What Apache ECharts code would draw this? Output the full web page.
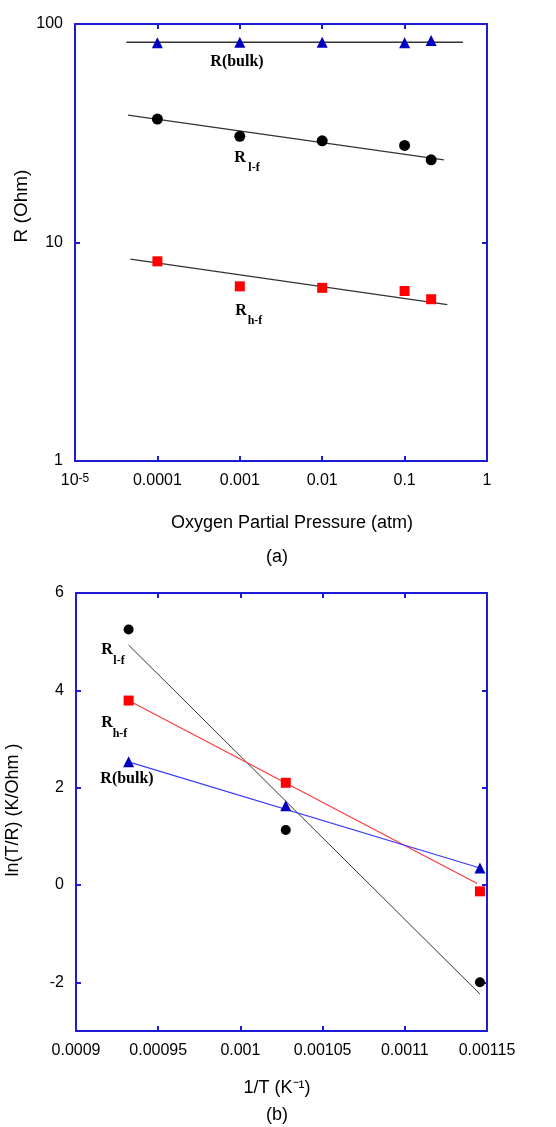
<!DOCTYPE html>
<html style="height: 100%">
<head>
<meta charset="utf-8">
<script src="https://cdn.jsdelivr.net/npm/echarts@6/dist/echarts.min.js"></script>
</head>
<body style="height: 100%; margin: 0; background: #fff">
<div id="container" style="width: 556px; height: 1127px"></div>
<script type="text/javascript">
// (a) resistance vs oxygen partial pressure
var pO2 = [0.0001, 0.001, 0.01, 0.1, 0.21];
var rBulk = [82, 82.5, 82.5, 82, 84];
var rLf = [36.7, 30.6, 29.2, 27.8, 23.9];
var rHf = [8.2, 6.3, 6.2, 6.0, 5.5];
var bulkFitX = [4.2e-5, 0.51], bulkFitY = [82.5, 82.5];
var lfFitX = [4.4e-5, 0.30], lfFitY = [38.3, 23.9];
var hfFitX = [4.7e-5, 0.33], hfFitY = [8.4, 5.2];
var pTickLabels = ['{a|10}{s|-5}', '0.0001', '0.001', '0.01', '0.1', '1'];

// (b) Arrhenius plot
var invT = [0.000932, 0.0010276, 0.0011457];
var lnLf = [5.25, 1.13, -2.0];
var lnHf = [3.79, 2.1, -0.13];
var lnBulk = [2.53, 1.63, 0.35];
var arrLfX = [0.000932, 0.0011457], arrLfY = [4.93, -2.24];
var arrHfX = [0.000932, 0.001144], arrHfY = [3.79, 0.03];
var arrBulkX = [0.000932, 0.0011457], arrBulkY = [2.53, 0.35];
var tTickLabels = ['0.0009', '0.00095', '0.001', '0.00105', '0.0011', '0.00115'];

function zip(xs, ys) {
    return xs.map(function (x, i) { return [x, ys[i]]; });
}

var blue = '#1c1cd6';
var font = 'Liberation Sans, Arial, sans-serif';
var serif = 'Liberation Serif, Times New Roman, serif';

function frameAxis(extra) {
    var base = {
        axisLine: { show: true, onZero: false, lineStyle: { color: blue, width: 2 } },
        axisTick: { show: true, inside: true, length: 5, lineStyle: { color: blue, width: 2 } },
        splitLine: { show: false },
        axisLabel: { show: false }
    };
    return Object.assign(base, extra);
}

function txt(x, y, text, f, extra) {
    return Object.assign({ type: 'text', x: x, y: y,
        style: { text: text, font: f, fill: '#000', align: 'center', verticalAlign: 'middle' } }, extra || {});
}

var dom = document.getElementById('container');
var myChart = echarts.init(dom);
var lbl = { color: '#000', fontSize: 16, fontFamily: font };

var option = {
    animation: false,
    grid: [
        { left: 75, top: 24, width: 412, height: 437 },
        { left: 76, top: 593, width: 411, height: 438 }
    ],
    xAxis: [
        frameAxis({ type: 'log', gridIndex: 0, min: 1e-5, max: 1, logBase: 10, position: 'bottom',
            axisLabel: Object.assign({ show: true, margin: 12,
                formatter: function (v) { return pTickLabels[Math.round(Math.log10(v)) + 5]; },
                rich: { a: { fontSize: 16, fontFamily: font, color: '#000', verticalAlign: 'bottom' },
                        s: { fontSize: 12, fontFamily: font, color: '#000', verticalAlign: 'top' } } }, lbl) }),
        frameAxis({ type: 'log', gridIndex: 0, min: 1e-5, max: 1, logBase: 10, position: 'top' }),
        frameAxis({ type: 'value', gridIndex: 1, min: 0.0009, max: 0.00115, interval: 0.00005, position: 'bottom',
            axisLabel: Object.assign({ show: true, margin: 12,
                formatter: function (v) { return tTickLabels[Math.round((v - 0.0009) / 0.00005)]; } }, lbl) }),
        frameAxis({ type: 'value', gridIndex: 1, min: 0.0009, max: 0.00115, interval: 0.00005, position: 'top' })
    ],
    yAxis: [
        frameAxis({ type: 'log', gridIndex: 0, min: 1, max: 100, logBase: 10, position: 'left',
            axisLabel: Object.assign({ show: true, margin: 12 }, lbl) }),
        frameAxis({ type: 'log', gridIndex: 0, min: 1, max: 100, logBase: 10, position: 'right' }),
        frameAxis({ type: 'value', gridIndex: 1, min: -3, max: 6, splitNumber: 5, position: 'left',
            axisLabel: Object.assign({ show: true, margin: 12,
                formatter: function (v) { return v === -3 ? '' : String(v); } }, lbl) }),
        frameAxis({ type: 'value', gridIndex: 1, min: -3, max: 6, splitNumber: 5, position: 'right' })
    ],
    series: [
        { type: 'line', xAxisIndex: 0, yAxisIndex: 0, data: zip(bulkFitX, bulkFitY), symbol: 'none',
          lineStyle: { color: '#333', width: 1.3 }, z: 2 },
        { type: 'line', xAxisIndex: 0, yAxisIndex: 0, data: zip(lfFitX, lfFitY), symbol: 'none',
          lineStyle: { color: '#333', width: 1.3 }, z: 2 },
        { type: 'line', xAxisIndex: 0, yAxisIndex: 0, data: zip(hfFitX, hfFitY), symbol: 'none',
          lineStyle: { color: '#333', width: 1.3 }, z: 2 },
        { type: 'scatter', xAxisIndex: 0, yAxisIndex: 0, data: zip(pO2, rBulk), symbol: 'triangle',
          symbolSize: 11, itemStyle: { color: '#0000c0', opacity: 1 }, z: 3 },
        { type: 'scatter', xAxisIndex: 0, yAxisIndex: 0, data: zip(pO2, rLf), symbol: 'circle',
          symbolSize: 11, itemStyle: { color: '#000', opacity: 1 }, z: 3 },
        { type: 'scatter', xAxisIndex: 0, yAxisIndex: 0, data: zip(pO2, rHf), symbol: 'rect',
          symbolSize: 10, itemStyle: { color: '#f00', opacity: 1 }, z: 3 },

        { type: 'line', xAxisIndex: 2, yAxisIndex: 2, data: zip(arrLfX, arrLfY), symbol: 'none',
          lineStyle: { color: '#333', width: 1 }, z: 2 },
        { type: 'line', xAxisIndex: 2, yAxisIndex: 2, data: zip(arrHfX, arrHfY), symbol: 'none',
          lineStyle: { color: '#ff3b3b', width: 1.2 }, z: 2 },
        { type: 'line', xAxisIndex: 2, yAxisIndex: 2, data: zip(arrBulkX, arrBulkY), symbol: 'none',
          lineStyle: { color: '#3b3bff', width: 1.2 }, z: 2 },
        { type: 'scatter', xAxisIndex: 2, yAxisIndex: 2, data: zip(invT, lnLf), symbol: 'circle',
          symbolSize: 10, itemStyle: { color: '#000', opacity: 1 }, z: 3 },
        { type: 'scatter', xAxisIndex: 2, yAxisIndex: 2, data: zip(invT, lnHf), symbol: 'rect',
          symbolSize: 10, itemStyle: { color: '#f00', opacity: 1 }, z: 3 },
        { type: 'scatter', xAxisIndex: 2, yAxisIndex: 2, data: zip(invT, lnBulk), symbol: 'triangle',
          symbolSize: 11, itemStyle: { color: '#0000c0', opacity: 1 }, z: 3 }
    ],
    graphic: [
        // axis titles and captions
        txt(22, 206, 'R (Ohm)', '19px ' + font, { rotation: Math.PI / 2 }),
        txt(292, 523, 'Oxygen Partial Pressure (atm)', '18px ' + font),
        txt(277, 557, '(a)', '18px ' + font),
        txt(13, 810, 'ln(T/R) (K/Ohm )', '18px ' + font, { rotation: Math.PI / 2 }),
        txt(277, 1088, '1/T (K\u207B\u00B9)', '18px ' + font),
        txt(277, 1115, '(b)', '18px ' + font),

        // series annotations, chart (a)
        txt(237, 62, 'R(bulk)', 'bold 16px ' + serif),
        txt(240, 158, 'R', 'bold 16px ' + serif),
        txt(254, 168, 'l-f', 'bold 12px ' + serif),
        txt(241, 311, 'R', 'bold 16px ' + serif),
        txt(255, 321, 'h-f', 'bold 12px ' + serif),

        // series annotations, chart (b)
        txt(107, 650, 'R', 'bold 16px ' + serif),
        txt(119, 661, 'l-f', 'bold 12px ' + serif),
        txt(107, 723, 'R', 'bold 16px ' + serif),
        txt(120, 734, 'h-f', 'bold 12px ' + serif),
        txt(127, 779, 'R(bulk)', 'bold 16px ' + serif)
    ]
};

if (option && typeof option === 'object') {
    myChart.setOption(option, true);
}
</script>
</body>
</html>
